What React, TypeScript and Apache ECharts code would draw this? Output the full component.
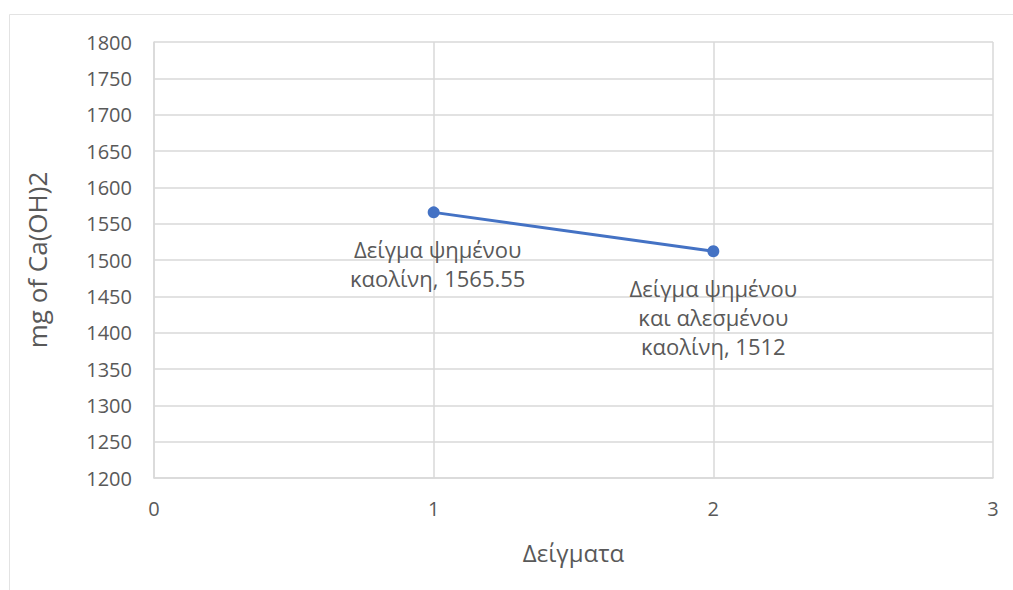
import React, { useEffect, useRef } from "react";
import * as echarts from "echarts";

// Sample positions on the x axis and the measured Ca(OH)2 values
const sampleX = [1, 2];
const caOH2Values = [1565.55, 1512];
const sampleNames = [
  "Δείγμα ψημένου\nκαολίνη",
  "Δείγμα ψημένου\nκαι αλεσμένου\nκαολίνη",
];
const labelOffsetsX = [4, 0];

const xAxisTitle = "Δείγματα";
const yAxisTitle = "mg of Ca(OH)2";

const FONT = "'Open Sans', 'Noto Sans', sans-serif";
const TEXT_COLOR = "#595959";
const GRID_COLOR = "#d9d9d9";
const LINE_COLOR = "#4472C4";

export default function App() {
  const ref = useRef<HTMLDivElement>(null);

  useEffect(() => {
    document.body.style.margin = "0";
    const chart = echarts.init(ref.current!, null, { renderer: "svg" });

    const seriesData = sampleX.map((x, i) => ({
      value: [x, caOH2Values[i]],
      name: sampleNames[i],
      label: { offset: [labelOffsetsX[i], 0] },
    }));

    chart.setOption({
      animation: false,
      backgroundColor: "#ffffff",
      textStyle: { fontFamily: FONT },
      grid: { left: 154, right: 20, top: 42, bottom: 112 },
      graphic: [
        {
          type: "rect",
          shape: { x: 9.5, y: 14.5, width: 1030, height: 620 },
          style: { fill: "none", stroke: "#e3e3e3", lineWidth: 1 },
          silent: true,
        },
      ],
      xAxis: {
        type: "value",
        min: 0,
        max: 3,
        interval: 1,
        name: xAxisTitle,
        nameLocation: "middle",
        nameGap: 62,
        nameTextStyle: { fontSize: 24, color: TEXT_COLOR, fontFamily: FONT },
        axisLine: { show: true, lineStyle: { color: GRID_COLOR, width: 1.5 } },
        axisTick: { show: false },
        axisLabel: {
          fontSize: 20,
          color: TEXT_COLOR,
          margin: 20,
          fontFamily: FONT,
          formatter: (v: number) => String(v),
        },
        splitLine: { show: true, lineStyle: { color: GRID_COLOR, width: 1.5 } },
      },
      yAxis: {
        type: "value",
        min: 1200,
        max: 1800,
        interval: 50,
        name: yAxisTitle,
        nameLocation: "middle",
        nameGap: 104,
        nameTextStyle: { fontSize: 26, color: TEXT_COLOR, fontFamily: FONT },
        axisLine: { show: true, lineStyle: { color: GRID_COLOR, width: 1.5 } },
        axisTick: { show: false },
        axisLabel: {
          fontSize: 20,
          color: TEXT_COLOR,
          margin: 22,
          fontFamily: FONT,
          formatter: (v: number) => String(v),
        },
        splitLine: { show: true, lineStyle: { color: GRID_COLOR, width: 1.5 } },
      },
      series: [
        {
          type: "line",
          data: seriesData,
          symbol: "circle",
          symbolSize: 12,
          lineStyle: { color: LINE_COLOR, width: 3 },
          itemStyle: { color: LINE_COLOR },
          label: {
            show: true,
            position: "bottom",
            distance: 16,
            align: "center",
            fontSize: 22,
            lineHeight: 29,
            color: TEXT_COLOR,
            fontFamily: FONT,
            formatter: (p: any) => `${p.data.name}, ${p.data.value[1]}`,
          },
        },
      ],
    });

    return () => chart.dispose();
  }, []);

  return <div ref={ref} style={{ width: 1013, height: 590 }} />;
}
